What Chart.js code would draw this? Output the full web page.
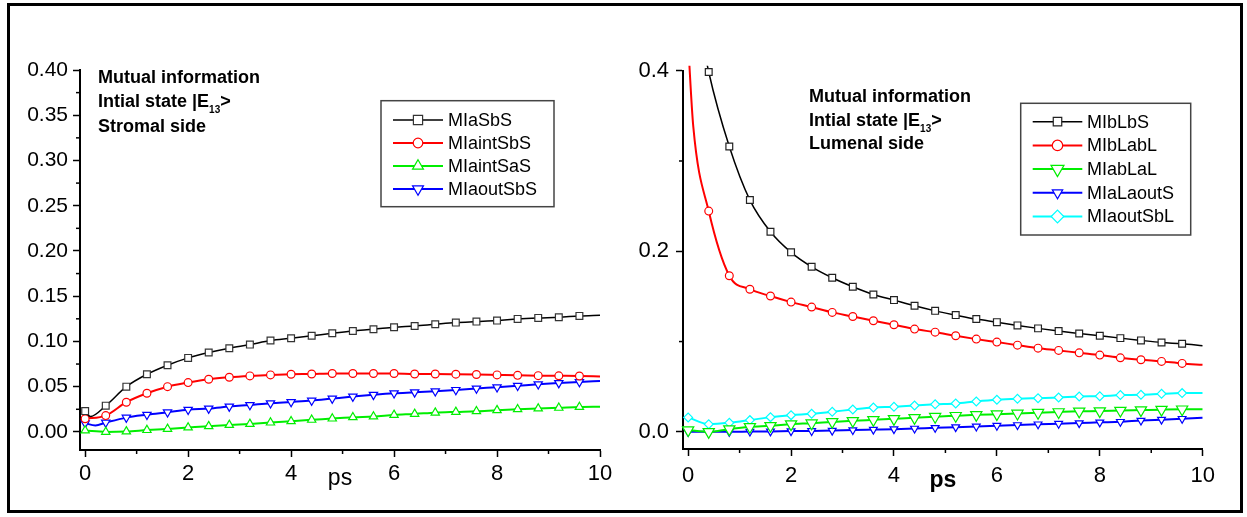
<!DOCTYPE html>
<html>
<head>
<meta charset="utf-8">
<script src="https://cdn.jsdelivr.net/npm/chart.js@4.4.0/dist/chart.umd.min.js"></script>
<style>
  html, body { margin: 0; padding: 0; background: #fff; }
  body { width: 1247px; height: 517px; position: relative; overflow: hidden; }
  #frame { position: absolute; left: 7px; top: 3px; width: 1236px; height: 510px; border: 3px solid #000; box-sizing: border-box; }
  #left { position: absolute; left: 10px; top: 6px; }
  #right { position: absolute; left: 620px; top: 6px; }
</style>
</head>
<body>
<div id="frame"></div>
<canvas id="left" width="615" height="500"></canvas>
<canvas id="right" width="610" height="500"></canvas>
<script>
// time axis (ps): markers every 0.4, curve runs on to 10
const times = [0, 0.4, 0.8, 1.2, 1.6, 2, 2.4, 2.8, 3.2, 3.6, 4, 4.4, 4.8, 5.2, 5.6, 6, 6.4, 6.8, 7.2, 7.6, 8, 8.4, 8.8, 9.2, 9.6, 10];
const xTicks = [0, 2, 4, 6, 8, 10];
const xMinor = [1, 3, 5, 7, 9];

// stromal side
const leftYTicks = [0, 0.05, 0.10, 0.15, 0.20, 0.25, 0.30, 0.35, 0.40];
const leftYMinor = [0.025, 0.075, 0.125, 0.175, 0.225, 0.275, 0.325, 0.375];
const miaSbS = [0.023, 0.029, 0.050, 0.0637, 0.0737, 0.0818, 0.0877, 0.0925, 0.0965, 0.101, 0.1035, 0.1062, 0.109, 0.1116, 0.1134, 0.1157, 0.1171, 0.119, 0.1208, 0.1219, 0.123, 0.1249, 0.126, 0.1267, 0.1282, 0.129];
const miaSbSDip = [[0.1, 0.017]];
const miaintSbS = [0.0145, 0.018, 0.0328, 0.0427, 0.050, 0.0545, 0.0582, 0.0604, 0.0619, 0.063, 0.0637, 0.064, 0.0645, 0.0645, 0.0645, 0.0645, 0.064, 0.064, 0.0638, 0.0635, 0.063, 0.0625, 0.0622, 0.062, 0.0618, 0.0612];
const miaintSaS = [0.0015, 0.0, 0.0005, 0.002, 0.0033, 0.0048, 0.0063, 0.0077, 0.0088, 0.0103, 0.0118, 0.0133, 0.0147, 0.0162, 0.017, 0.0188, 0.0199, 0.0213, 0.0221, 0.0228, 0.024, 0.025, 0.0258, 0.0266, 0.0275, 0.0278];
const miaoutSbS = [0.0096, 0.0103, 0.0158, 0.019, 0.0217, 0.0245, 0.0258, 0.028, 0.0298, 0.0317, 0.0331, 0.0346, 0.0368, 0.039, 0.041, 0.0427, 0.0438, 0.045, 0.0464, 0.048, 0.0494, 0.051, 0.0527, 0.054, 0.0552, 0.0563];
const miaoutSbSDip = [[0.2, 0.0072]];

// lumenal side
const rightYTicks = [0, 0.2, 0.4];
const rightYMinor = [0.1, 0.3];
const mibLbS = [0.52, 0.3986, 0.316, 0.2567, 0.2216, 0.1988, 0.1828, 0.1707, 0.1607, 0.1522, 0.1459, 0.1396, 0.134, 0.1293, 0.1249, 0.1215, 0.1179, 0.1146, 0.1116, 0.109, 0.1064, 0.1038, 0.1013, 0.099, 0.0975, 0.0953];
const mibLabL = [0.43, 0.2445, 0.1729, 0.158, 0.1504, 0.1437, 0.1382, 0.1323, 0.1278, 0.123, 0.1186, 0.1138, 0.1104, 0.1064, 0.1027, 0.0994, 0.096, 0.0927, 0.0902, 0.0875, 0.085, 0.082, 0.0798, 0.078, 0.0758, 0.0742];
const mibLabLKnee = [[0.1, 0.338]];
const miabLaL = [0.002, 0.0, 0.003, 0.0056, 0.0067, 0.0085, 0.0096, 0.011, 0.0122, 0.0133, 0.0144, 0.0155, 0.0168, 0.0178, 0.0188, 0.0196, 0.0204, 0.0212, 0.022, 0.0227, 0.023, 0.0236, 0.0241, 0.0246, 0.025, 0.0251];
const miaLaoutS = [0.0, 0.0, 0.0, 0.0003, 0.0005, 0.0008, 0.001, 0.0014, 0.002, 0.0025, 0.003, 0.0037, 0.0045, 0.0052, 0.006, 0.0068, 0.0076, 0.0084, 0.009, 0.0097, 0.0105, 0.0112, 0.0125, 0.0135, 0.0145, 0.0155];
const miaoutSbL = [0.016, 0.0085, 0.010, 0.013, 0.0163, 0.0185, 0.020, 0.0222, 0.0248, 0.027, 0.0277, 0.0292, 0.0305, 0.0315, 0.0337, 0.0355, 0.0366, 0.0373, 0.038, 0.0392, 0.0395, 0.0407, 0.041, 0.0421, 0.0429, 0.043];

const FONT = "'Liberation Sans', Arial, sans-serif";
Chart.defaults.font.family = FONT;
Chart.defaults.color = '#000';

function series(label, values, extra, st, clip) {
  const pts = times.map((t, i) => ({ x: t, y: values[i], m: t < 10 }));
  (extra || []).forEach(([x, y]) => pts.push({ x, y, m: false }));
  pts.sort((a, b) => a.x - b.x);
  return {
    label,
    data: pts,
    borderColor: st.color,
    borderWidth: st.width,
    pointStyle: st.shape,
    pointRotation: st.rot || 0,
    pointBackgroundColor: '#fff',
    pointBorderColor: st.edge || st.color,
    pointBorderWidth: 1.2,
    pointRadius: pts.map(p => p.m ? st.r : 0),
    legendR: st.lr,
    cubicInterpolationMode: 'monotone',
    clip
  };
}

function line(ctx, x1, y1, x2, y2) {
  ctx.beginPath(); ctx.moveTo(x1, y1); ctx.lineTo(x2, y2); ctx.stroke();
}

const decor = {
  id: 'decor',
  afterDraw(chart, args, o) {
    const ctx = chart.ctx, ca = chart.chartArea;
    const xs = chart.scales.x, ys = chart.scales.y;
    ctx.save();
    // minor ticks
    ctx.strokeStyle = '#000'; ctx.lineWidth = 1.5;
    o.minorX.forEach(v => { const px = xs.getPixelForValue(v); line(ctx, px, ca.bottom, px, ca.bottom + 4); });
    o.minorY.forEach(v => { const py = ys.getPixelForValue(v); line(ctx, ca.left - 4, py, ca.left, py); });

    // axis title
    ctx.fillStyle = '#000';
    ctx.textAlign = 'center'; ctx.textBaseline = 'alphabetic';
    ctx.font = o.psFont;
    ctx.fillText('ps', (ca.left + ca.right) / 2, o.psY);

    // note
    ctx.textAlign = 'left';
    const big = 'bold 18px ' + FONT, small = 'bold 10px ' + FONT;
    o.note.lines.forEach((segs, i) => {
      let x = o.note.x;
      const y = o.note.baselines[i];
      segs.forEach(s => {
        ctx.font = s.sub ? small : big;
        ctx.fillText(s.t, x, s.sub ? y + 6 : y);
        x += ctx.measureText(s.t).width;
      });
    });

    // legend
    const L = o.legend;
    ctx.strokeStyle = '#444'; ctx.lineWidth = 1.5;
    ctx.strokeRect(L.box[0], L.box[1], L.box[2], L.box[3]);
    ctx.font = '18px ' + FONT;
    ctx.textBaseline = 'middle';
    chart.data.datasets.forEach((d, i) => {
      const y = L.rows[i];
      ctx.strokeStyle = d.borderColor; ctx.lineWidth = d.borderWidth;
      line(ctx, L.lineX[0], y, L.lineX[1], y);
      ctx.fillStyle = '#fff';
      ctx.strokeStyle = d.pointBorderColor; ctx.lineWidth = 1.2;
      Chart.helpers.drawPoint(ctx, { pointStyle: d.pointStyle, radius: d.legendR, rotation: d.pointRotation, borderWidth: 1.2 },
        (L.lineX[0] + L.lineX[1]) / 2, y);
      ctx.fillStyle = '#000';
      ctx.fillText(d.label, L.textX, y + 1);
    });
    ctx.restore();
  }
};

function scales(yMin, yMax, yTicks, yDigits, yFont, yPad, yWidth, xPad, xHeight) {
  return {
    x: {
      type: 'linear', min: -0.1, max: 10,
      border: { color: '#000', width: 2 },
      grid: { drawOnChartArea: false, tickLength: 7, tickColor: '#000', tickWidth: 1.5 },
      ticks: { font: { size: 22 }, color: '#000', padding: xPad, maxRotation: 0, callback: v => String(v) },
      afterBuildTicks: s => { s.ticks = xTicks.map(v => ({ value: v })); },
      afterFit: s => { s.height = xHeight; }
    },
    y: {
      type: 'linear', min: yMin, max: yMax,
      border: { color: '#000', width: 2 },
      grid: { drawOnChartArea: false, tickLength: 7, tickColor: '#000', tickWidth: 1.5 },
      ticks: { font: { size: yFont }, color: '#000', padding: yPad, callback: v => v.toFixed(yDigits) },
      afterBuildTicks: s => { s.ticks = yTicks.map(v => ({ value: v })); },
      afterFit: s => { s.width = yWidth; }
    }
  };
}

const common = {
  responsive: false,
  animation: false,
  events: [],
  plugins: { legend: { display: false }, tooltip: { enabled: false } }
};

const clipL = { left: 10, top: 10, right: 0, bottom: 10 };
new Chart(document.getElementById('left'), {
  type: 'line',
  data: {
    datasets: [
      series('MIaSbS', miaSbS, miaSbSDip, { color: '#000', edge: '#333', width: 1.5, shape: 'rect', r: 4.8, lr: 6.5 }, clipL),
      series('MIaintSbS', miaintSbS, null, { color: '#ff0000', width: 2, shape: 'circle', r: 3.9, lr: 4.8 }, clipL),
      series('MIaintSaS', miaintSaS, null, { color: '#00ee00', width: 2, shape: 'triangle', r: 4.8, lr: 6.3 }, clipL),
      series('MIaoutSbS', miaoutSbS, miaoutSbSDip, { color: '#0000ff', width: 2, shape: 'triangle', rot: 180, r: 4.8, lr: 6.3 }, clipL)
    ]
  },
  options: Object.assign({}, common, {
    layout: { padding: { top: 64, right: 25, left: 0, bottom: 0 } },
    scales: scales(-0.02, 0.40, leftYTicks, 2, 21, 5, 70, 4, 56),
    plugins: Object.assign({}, common.plugins, {
      decor: {
        minorX: xMinor, minorY: leftYMinor,
        psFont: '23px ' + FONT, psY: 479,
        note: {
          x: 88, baselines: [77, 101, 125.5],
          lines: [[{ t: 'Mutual information' }], [{ t: 'Intial state |E' }, { t: '13', sub: true }, { t: '>' }], [{ t: 'Stromal side' }]]
        },
        legend: { box: [371, 94.7, 173, 106], rows: [114, 137, 160, 183], lineX: [383, 433], textX: 438 }
      }
    })
  }),
  plugins: [decor]
});

const clipR = { left: 10, top: 5, right: 0, bottom: 10 };
new Chart(document.getElementById('right'), {
  type: 'line',
  data: {
    datasets: [
      series('MIbLbS', mibLbS, null, { color: '#000', edge: '#222', width: 1.5, shape: 'rect', r: 4.8, lr: 6 }, clipR),
      series('MIbLabL', mibLabL, mibLabLKnee, { color: '#ff0000', width: 2, shape: 'circle', r: 3.9, lr: 5.2 }, clipR),
      series('MIabLaL', miabLaL, null, { color: '#00ee00', width: 2, shape: 'triangle', rot: 180, r: 6.5, lr: 7.5 }, clipR),
      series('MIaLaoutS', miaLaoutS, null, { color: '#0000ff', width: 2, shape: 'triangle', rot: 180, r: 4.5, lr: 6 }, clipR),
      series('MIaoutSbL', miaoutSbL, null, { color: '#00ffff', width: 2, shape: 'rectRot', r: 4.4, lr: 6.3 }, clipR)
    ]
  },
  options: Object.assign({}, common, {
    layout: { padding: { top: 64.7, right: 27.3, left: 0, bottom: 0 } },
    scales: scales(-0.019, 0.4, rightYTicks, 1, 22, 7, 63, 7, 57),
    plugins: Object.assign({}, common.plugins, {
      decor: {
        minorX: xMinor, minorY: rightYMinor,
        psFont: 'bold 23px ' + FONT, psY: 480.7,
        note: {
          x: 189, baselines: [95.7, 120, 143.3],
          lines: [[{ t: 'Mutual information' }], [{ t: 'Intial state |E' }, { t: '13', sub: true }, { t: '>' }], [{ t: 'Lumenal side' }]]
        },
        legend: { box: [400.7, 97.3, 170, 131.7], rows: [115.7, 139.4, 163.1, 186.8, 210.5], lineX: [412.7, 462.3], textX: 467 }
      }
    })
  }),
  plugins: [decor]
});
</script>
</body>
</html>
